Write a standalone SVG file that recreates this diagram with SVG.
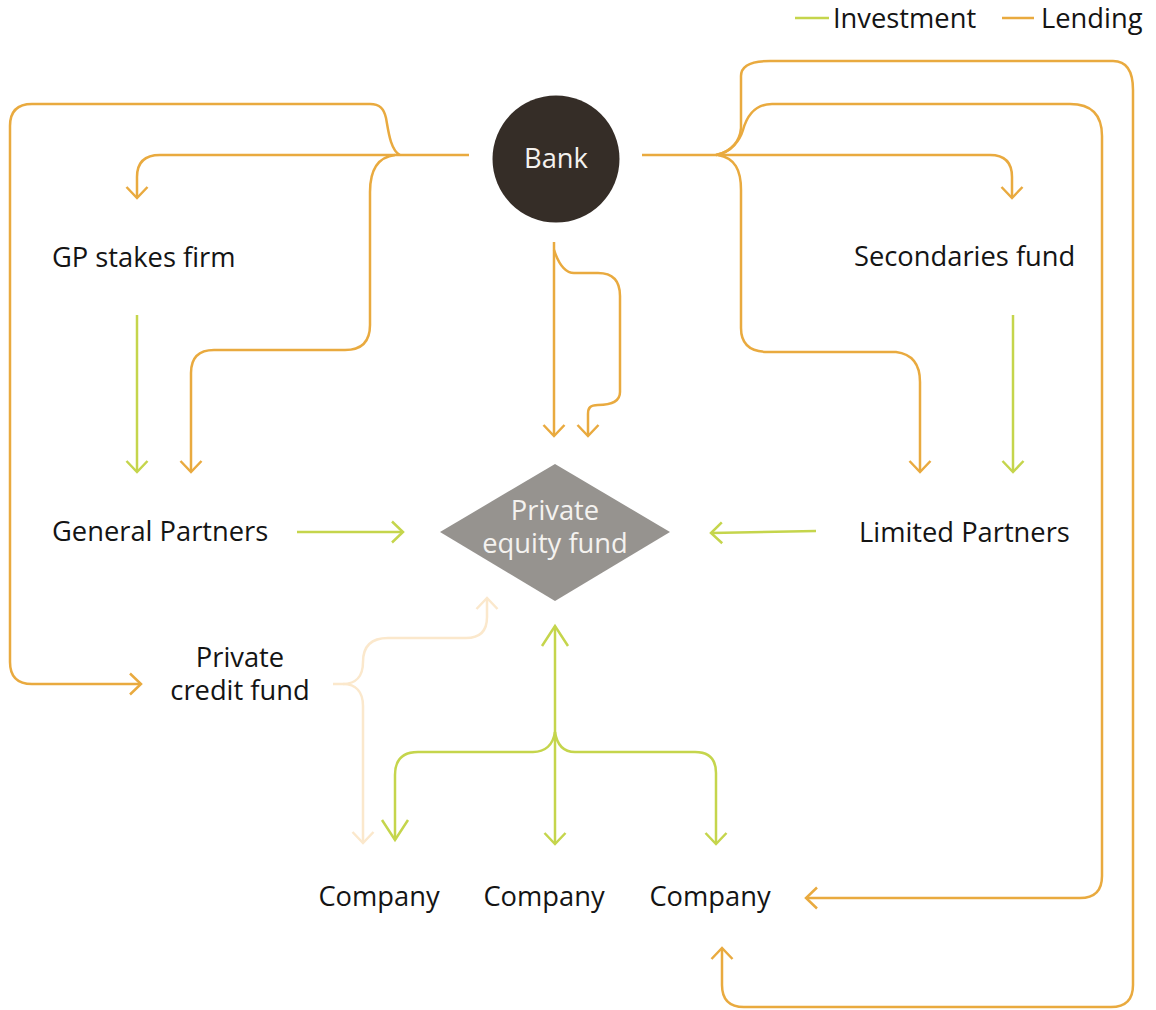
<svg xmlns="http://www.w3.org/2000/svg" width="1156" height="1010" viewBox="0 0 1156 1010">
  <style>
    .lbl { font-family: "Open Sans", "Liberation Sans", sans-serif; font-size: 27.3px; fill: #141414; }
    .inv { font-family: "Open Sans", "Liberation Sans", sans-serif; font-size: 27.3px; fill: #F4F2EF; }
    .c { fill: none; stroke-width: 2.5; stroke-linecap: butt; stroke-linejoin: round; }
    .lend { stroke: #E9AA3F; }
    .invest { stroke: #C5D54C; }
    .faint { stroke: #FBE8CC; }
  </style>
  <defs>
    <marker id="aLend" viewBox="-14 -14 28 28" markerWidth="28" markerHeight="28" refX="0" refY="0" orient="auto-start-reverse" markerUnits="userSpaceOnUse">
      <path d="M-11,-10.5 L0,0 L-11,10.5" fill="none" stroke="#E9AA3F" stroke-width="2.5"/>
    </marker>
    <marker id="aInv" viewBox="-14 -14 28 28" markerWidth="28" markerHeight="28" refX="0" refY="0" orient="auto-start-reverse" markerUnits="userSpaceOnUse">
      <path d="M-11,-10.5 L0,0 L-11,10.5" fill="none" stroke="#C5D54C" stroke-width="2.5"/>
    </marker>
    <marker id="aInvLg" viewBox="-22 -16 32 32" markerWidth="32" markerHeight="32" refX="0" refY="0" orient="auto-start-reverse" markerUnits="userSpaceOnUse">
      <path d="M-20,-13 L0,0 L-20,13" fill="none" stroke="#C5D54C" stroke-width="2.5"/>
    </marker>
    <marker id="aFaint" viewBox="-14 -14 28 28" markerWidth="28" markerHeight="28" refX="0" refY="0" orient="auto-start-reverse" markerUnits="userSpaceOnUse">
      <path d="M-11,-10.5 L0,0 L-11,10.5" fill="none" stroke="#FBE8CC" stroke-width="2.5"/>
    </marker>
  </defs>

  <rect width="1156" height="1010" fill="#FFFFFF"/>

  <!-- legend -->
  <g id="legend">
    <path class="c invest" d="M795 18 H829"/>
    <text class="lbl" x="833" y="28">Investment</text>
    <path class="c lend" d="M1002 18 H1034"/>
    <text class="lbl" x="1041" y="28">Lending</text>
  </g>

  <!-- connectors -->
  <g id="connectors">
    <!-- lending from the bank, left side -->
    <path class="c lend" marker-end="url(#aLend)" d="M469 155 H160 Q137 155 137 177 V198"/>
    <path class="c lend" marker-end="url(#aLend)" d="M400 155 C390 150 388 128 386 118 C384 109 380 104 370 104 H32 Q10 104 10 126 V662 Q10 684 32 684 H141"/>
    <path class="c lend" marker-end="url(#aLend)" d="M395 155 C378 157 370 170 370 192 V325 Q370 350 345 350 H214 Q191 350 191 373 V472"/>
    <!-- lending from the bank, downward -->
    <path class="c lend" marker-end="url(#aLend)" d="M554 242 V436"/>
    <path class="c lend" marker-end="url(#aLend)" d="M554 250 C558 262 564 273 574 273 H598 Q620 273 620 296 V392 C620 402 610 405 598 405 C590 405 588 408 588 414 V436"/>
    <!-- lending from the bank, right side -->
    <path class="c lend" marker-end="url(#aLend)" d="M642 155 H990 Q1012 155 1012 177 V198"/>
    <path class="c lend" marker-end="url(#aLend)" d="M716 155 C732 152 740 140 741 128 V76 C741 66 750 61 770 61 H1113 Q1133 61 1133 90 V985 Q1133 1007 1111 1007 H744 Q722 1007 722 985 V948"/>
    <path class="c lend" marker-end="url(#aLend)" d="M716 155 C732 152 740 140 743 130 C748 112 758 104 772 104 H1070 Q1102 104 1102 136 V876 Q1102 898 1080 898 H806"/>
    <path class="c lend" marker-end="url(#aLend)" d="M718 155 C735 158 741 170 741 190 V328 Q741 352 768 352 H896 Q920 355 920 382 V472"/>

    <!-- investment -->
    <path class="c invest" marker-end="url(#aInv)" d="M137 315 V472"/>
    <path class="c invest" marker-end="url(#aInv)" d="M1013 315 V472"/>
    <path class="c invest" marker-end="url(#aInv)" d="M297 532 H403"/>
    <path class="c invest" marker-end="url(#aInv)" d="M816 531 L711 533"/>
    <path class="c invest" marker-start="url(#aInvLg)" marker-end="url(#aInv)" d="M555 626 V844"/>
    <path class="c invest" marker-end="url(#aInvLg)" d="M555 732 C553 745 545 752 533 752 H418 Q395 752 395 775 V840"/>
    <path class="c invest" marker-end="url(#aInv)" d="M555 732 C557 745 563 752 575 752 H695 Q716 752 716 773 V844"/>

    <!-- private credit fund links -->
    <path class="c faint" marker-end="url(#aFaint)" d="M333 684 H343 C356 684 363 676 363 662 Q363 638 388 638 H466 Q487 638 487 617 V598"/>
    <path class="c faint" marker-end="url(#aFaint)" d="M343 684 C356 684 363 692 363 706 V843"/>
  </g>

  <!-- nodes -->
  <g id="bank">
    <circle cx="556" cy="159" r="63.5" fill="#352D27"/>
    <text class="inv" x="556" y="168" text-anchor="middle">Bank</text>
  </g>
  <g id="gp-stakes-firm">
    <text class="lbl" x="52" y="267">GP stakes firm</text>
  </g>
  <g id="secondaries-fund">
    <text class="lbl" x="854" y="266">Secondaries fund</text>
  </g>
  <g id="general-partners">
    <text class="lbl" x="52" y="541">General Partners</text>
  </g>
  <g id="limited-partners">
    <text class="lbl" x="859" y="542">Limited Partners</text>
  </g>
  <g id="private-equity-fund">
    <polygon points="440,532 555,464 670,532 555,601" fill="#96938F"/>
    <text class="inv" text-anchor="middle"><tspan x="555" y="520">Private</tspan><tspan x="555" y="553">equity fund</tspan></text>
  </g>
  <g id="private-credit-fund">
    <text class="lbl" text-anchor="middle"><tspan x="240" y="667">Private</tspan><tspan x="240" y="700">credit fund</tspan></text>
  </g>
  <g id="company-1">
    <text class="lbl" x="379" y="906" text-anchor="middle">Company</text>
  </g>
  <g id="company-2">
    <text class="lbl" x="544" y="906" text-anchor="middle">Company</text>
  </g>
  <g id="company-3">
    <text class="lbl" x="710" y="906" text-anchor="middle">Company</text>
  </g>
</svg>
